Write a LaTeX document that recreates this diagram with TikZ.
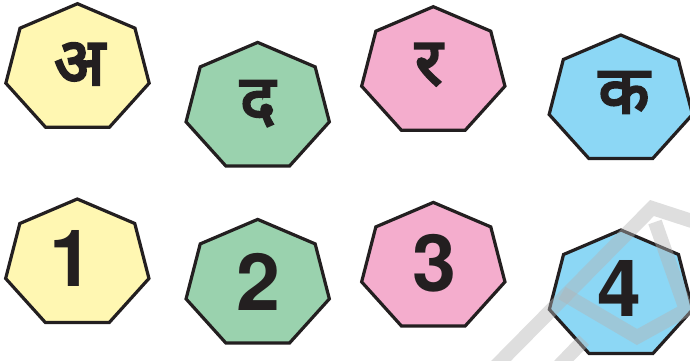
\documentclass[tikz,border=0pt]{standalone}
\usepackage{fontspec}
\setmainfont{TeX Gyre Heros}
\newfontfamily\devafont[Script=Devanagari, FakeBold=4]{Noto Sans}
\definecolor{hyel}{RGB}{255,247,178}
\definecolor{hgrn}{RGB}{154,210,174}
\definecolor{hpnk}{RGB}{244,173,205}
\definecolor{hblu}{RGB}{140,215,245}
\definecolor{hink}{RGB}{35,31,32}
\definecolor{wmark}{RGB}{180,180,180}
\newcommand\heptagon[3]{%
  \draw[heptline, fill=#3] plot[samples at={0,...,6}, variable=\k]
    ({#1+73.5*sin(\k*360/7)},{#2-65*cos(\k*360/7)}) -- cycle;}
\begin{document}
\begin{tikzpicture}[x=1pt,y=-1pt,
  heptline/.style={draw=hink, line width=3.2pt, line join=miter},
  digit/.style={font=\fontsize{79}{79}\selectfont\bfseries, text=hink, inner sep=0pt, anchor=center},
  deva/.style={font=\devafont\fontsize{66}{66}\selectfont, text=hink, inner sep=0pt, anchor=center},
  wm/.style={draw=wmark, opacity=0.44, line width=14pt, line join=miter}]
\useasboundingbox (0,0) rectangle (690,360);
% top row
\heptagon{77.5}{68.7}{hyel}
\heptagon{257.7}{107.4}{hgrn}
\heptagon{433.3}{71.7}{hpnk}
\heptagon{620.8}{100}{hblu}
% bottom row
\heptagon{77.3}{264}{hyel}
\heptagon{257.7}{284.4}{hgrn}
\heptagon{433.3}{267.4}{hpnk}
\heptagon{621}{295}{hblu}
% letters
\node[deva] (la) at (79.5,64) {अ};
\node[deva] (ld) at (257.8,103.5) {द};
\node[deva] (lr) at (428.7,64.5) {र};
\node[deva] (lk) at (624,92.5) {क};
% digits
\node[digit] (d1) at (71.6,258.3) {1};
\node[digit] (d2) at (258.7,281.7) {2};
\node[digit] (d3) at (434.3,263.3) {3};
\node[digit] (d4) at (619,288) {4};
% watermark
\draw[wm] (495,367) -- (652,208) -- (695,222);
\draw[wm] (562,293) -- (637,337) -- (686,310) -- (655,222);
\draw[wm] (557,368) -- (584,340);
\end{tikzpicture}
\end{document}
